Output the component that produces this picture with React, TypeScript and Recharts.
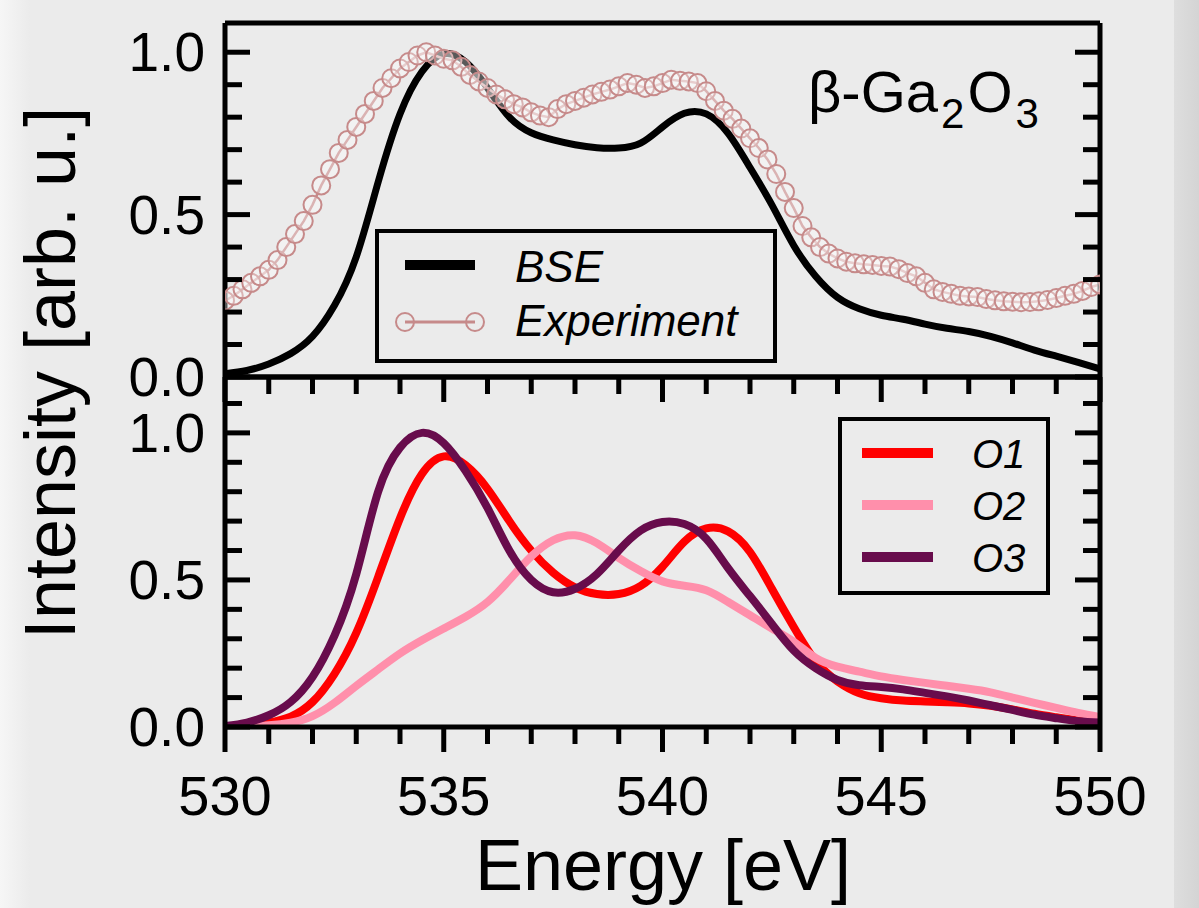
import React from 'react';
import { LineChart, Line, XAxis, YAxis } from 'recharts';

// ---------- data ----------
const calcEnergy = [
  530, 530.5, 531, 531.5, 532, 532.5, 533, 533.5, 534, 534.5,
  535, 535.5, 536, 536.5, 537, 537.5, 538, 538.5, 539, 539.5,
  540, 540.5, 541, 541.5, 542, 542.5, 543, 543.5, 544, 544.5,
  545, 545.5, 546, 546.5, 547, 547.5, 548, 548.5, 549, 549.5, 550,
];

const bse = [
  0.01, 0.02, 0.04, 0.072, 0.125, 0.22, 0.37, 0.6, 0.81, 0.94,
  0.995, 0.97, 0.89, 0.8, 0.752, 0.73, 0.715, 0.706, 0.705, 0.72,
  0.77, 0.812, 0.81, 0.75, 0.645, 0.53, 0.405, 0.31, 0.245, 0.21,
  0.19, 0.178, 0.163, 0.15, 0.14, 0.125, 0.105, 0.083, 0.064, 0.045, 0.025,
];

const o1 = [
  0.0, 0.005, 0.015, 0.035, 0.085, 0.18, 0.32, 0.51, 0.71, 0.86,
  0.92, 0.89, 0.81, 0.7, 0.6, 0.525, 0.475, 0.452, 0.452, 0.48,
  0.545, 0.63, 0.675, 0.665, 0.595, 0.47, 0.34, 0.225, 0.155, 0.115,
  0.098, 0.09, 0.087, 0.084, 0.08, 0.072, 0.06, 0.045, 0.033, 0.022, 0.012,
];

const o2 = [
  0.0, 0.002, 0.006, 0.015, 0.037, 0.082, 0.14, 0.196, 0.25, 0.295,
  0.335, 0.375, 0.425, 0.5, 0.58, 0.635, 0.652, 0.625, 0.575, 0.53,
  0.495, 0.48, 0.465, 0.425, 0.38, 0.335, 0.29, 0.235, 0.205, 0.188,
  0.172, 0.16, 0.15, 0.14, 0.13, 0.118, 0.1, 0.082, 0.065, 0.048, 0.034,
];

const o3 = [
  0.003, 0.015, 0.04, 0.085, 0.17, 0.31, 0.52, 0.8, 0.95, 1.0,
  0.965, 0.87, 0.745, 0.6, 0.5, 0.458, 0.47, 0.52, 0.6, 0.668,
  0.697, 0.69, 0.64, 0.54, 0.445, 0.35, 0.26, 0.2, 0.16, 0.142,
  0.136, 0.128, 0.116, 0.104, 0.09, 0.074, 0.058, 0.042, 0.03, 0.02, 0.015,
];

const expEnergy = [
  530, 530.2, 530.4, 530.6, 530.8, 531, 531.2, 531.4, 531.6, 531.8,
  532, 532.2, 532.4, 532.6, 532.8, 533, 533.2, 533.4, 533.6, 533.8,
  534, 534.2, 534.4, 534.6, 534.8, 535, 535.2, 535.4, 535.6, 535.8,
  536, 536.2, 536.4, 536.6, 536.8, 537, 537.2, 537.4, 537.6, 537.8,
  538, 538.2, 538.4, 538.6, 538.8, 539, 539.2, 539.4, 539.6, 539.8,
  540, 540.2, 540.4, 540.6, 540.8, 541, 541.2, 541.4, 541.6, 541.8,
  542, 542.2, 542.4, 542.6, 542.8, 543, 543.2, 543.4, 543.6, 543.8,
  544, 544.2, 544.4, 544.6, 544.8, 545, 545.2, 545.4, 545.6, 545.8,
  546, 546.2, 546.4, 546.6, 546.8, 547, 547.2, 547.4, 547.6, 547.8,
  548, 548.2, 548.4, 548.6, 548.8, 549, 549.2, 549.4, 549.6, 549.8, 550,
];

const expIntensity = [
  0.235, 0.25, 0.27, 0.29, 0.31, 0.33, 0.36, 0.4, 0.44, 0.48,
  0.53, 0.59, 0.64, 0.69, 0.73, 0.77, 0.81, 0.85, 0.89, 0.92,
  0.95, 0.97, 0.99, 1.0, 0.99, 0.98, 0.975, 0.955, 0.93, 0.91,
  0.89, 0.87, 0.855, 0.84, 0.83, 0.815, 0.805, 0.8, 0.825, 0.84,
  0.85, 0.86, 0.87, 0.878, 0.885, 0.895, 0.905, 0.9, 0.89, 0.895,
  0.905, 0.915, 0.912, 0.91, 0.905, 0.88, 0.85, 0.82, 0.795, 0.765,
  0.735, 0.705, 0.67, 0.625, 0.57, 0.52, 0.465, 0.43, 0.4, 0.38,
  0.365, 0.355, 0.35, 0.347, 0.345, 0.342, 0.34, 0.332, 0.32, 0.31,
  0.29, 0.27, 0.262, 0.256, 0.25, 0.248, 0.246, 0.24, 0.236, 0.233,
  0.232, 0.23, 0.231, 0.233, 0.237, 0.243, 0.25, 0.256, 0.265, 0.277, 0.285,
];

const xTicks = [530, 531, 532, 533, 534, 535, 536, 537, 538, 539, 540, 541, 542, 543, 544, 545, 546, 547, 548, 549, 550];
const xMajorTicks = [530, 535, 540, 545, 550];
const yTicksTop = [0, 0.1, 0.2, 0.3, 0.4, 0.5, 0.6, 0.7, 0.8, 0.9, 1.0];
const yTicksBottom = [0, 0.1, 0.2, 0.3, 0.4, 0.5, 0.6, 0.7, 0.8, 0.9, 1.0, 1.1];
const yMajorTicks = [0, 0.5, 1.0];

const topSeries = [
  { name: 'BSE', color: '#000000' },
  { name: 'Experiment', color: '#c68a8a' },
];
const bottomSeries = [
  { name: 'O1', color: '#ff0000', values: o1 },
  { name: 'O2', color: '#ff8fab', values: o2 },
  { name: 'O3', color: '#680c4c', values: o3 },
];

// ---------- styling ----------
const FONT = "'Liberation Sans', Arial, Helvetica, sans-serif";
const W = 1199;
const H = 908;
const FRAME = 5;
const PLOT_RIGHT = 1100;

const isMajorY = (v: number) => yMajorTicks.some((m) => Math.abs(m - v) < 1e-6);
const isMajorX = (v: number) => xMajorTicks.includes(v);

const LeftTick = (props: any) => {
  const { x, y, payload } = props;
  const v = payload.value as number;
  const major = isMajorY(v);
  return (
    <g>
      <line x1={x} x2={x + (major ? 25 : 17)} y1={y} y2={y} stroke="#000" strokeWidth={FRAME} />
      {major && (
        <text x={x - 20} y={y + 19} textAnchor="end" fontSize={55} fontFamily={FONT} fill="#000">
          {v.toFixed(1)}
        </text>
      )}
    </g>
  );
};

const RightTick = (props: any) => {
  const { x, y, payload } = props;
  const v = payload.value as number;
  const major = isMajorY(v);
  return <line x1={x} x2={x - (major ? 25 : 17)} y1={y} y2={y} stroke="#000" strokeWidth={FRAME} />;
};

const makeBottomTick = (withLabel: boolean) => (props: any) => {
  const { x, y, payload } = props;
  const v = payload.value as number;
  const major = isMajorX(v);
  return (
    <g>
      <line x1={x} x2={x} y1={y} y2={y + (major ? 25 : 17)} stroke="#000" strokeWidth={FRAME} />
      {withLabel && major && (
        <text x={x} y={y + 88} textAnchor="middle" fontSize={56} fontFamily={FONT} fill="#000">
          {v}
        </text>
      )}
    </g>
  );
};

const TopPanelXTick = makeBottomTick(false);
const BottomPanelXTick = makeBottomTick(true);

const toRows = (xs: number[], ys: number[]) => xs.map((e, i) => ({ e, v: ys[i] }));

function Panel({
  top,
  bottom,
  yMax,
  yTicks,
  xTick,
  children,
}: {
  top: number;
  bottom: number;
  yMax: number;
  yTicks: number[];
  xTick: any;
  children: React.ReactNode;
}) {
  return (
    <div style={{ position: 'absolute', left: 0, top: 0 }}>
      <LineChart
        width={W}
        height={H}
        margin={{ top: top - 1, right: W - PLOT_RIGHT - 1, bottom: H - bottom - 1, left: 0 }}
      >
        <XAxis
          xAxisId="b"
          dataKey="e"
          type="number"
          domain={[530, 550]}
          allowDataOverflow
          ticks={xTicks}
          interval={0}
          height={1}
          tickSize={0}
          tickMargin={0}
          tickLine={false}
          axisLine={{ stroke: '#000', strokeWidth: FRAME }}
          tick={xTick}
        />
        <XAxis
          xAxisId="t"
          orientation="top"
          dataKey="e"
          type="number"
          domain={[530, 550]}
          allowDataOverflow
          height={1}
          tick={false}
          tickLine={false}
          axisLine={{ stroke: '#000', strokeWidth: FRAME }}
        />
        <YAxis
          yAxisId="l"
          type="number"
          domain={[0, yMax]}
          allowDataOverflow
          ticks={yTicks}
          interval={0}
          width={225}
          tickSize={0}
          tickMargin={0}
          tickLine={false}
          axisLine={{ stroke: '#000', strokeWidth: FRAME }}
          tick={LeftTick}
        />
        <YAxis
          yAxisId="r"
          orientation="right"
          type="number"
          domain={[0, yMax]}
          allowDataOverflow
          ticks={yTicks}
          interval={0}
          width={1}
          tickSize={0}
          tickMargin={0}
          tickLine={false}
          axisLine={{ stroke: '#000', strokeWidth: FRAME }}
          tick={RightTick}
        />
        {children}
      </LineChart>
    </div>
  );
}

export default function App() {
  const bseRows = toRows(calcEnergy, bse);
  const expRows = toRows(expEnergy, expIntensity);
  const [bseS, expS] = topSeries;

  return (
    <div
      style={{
        position: 'absolute',
        left: 0,
        top: 0,
        width: W,
        height: H,
        background: '#ebebeb',
        overflow: 'hidden',
      }}
    >
      <div
        style={{
          position: 'absolute',
          left: 0,
          top: 0,
          width: 30,
          height: H,
          background: 'linear-gradient(to right, #f6f6f6, #ebebeb)',
        }}
      />
      <div
        style={{
          position: 'absolute',
          left: 1174,
          top: 0,
          width: 25,
          height: H,
          background: 'linear-gradient(to right, #dedede, #d4d4d4)',
        }}
      />

      {/* top panel */}
      <Panel top={23} bottom={377} yMax={1.09} yTicks={yTicksTop} xTick={TopPanelXTick}>
        <Line
          xAxisId="b"
          yAxisId="l"
          data={bseRows}
          dataKey="v"
          name={bseS.name}
          type="natural"
          stroke={bseS.color}
          strokeWidth={7}
          dot={false}
          isAnimationActive={false}
        />
        <Line
          xAxisId="b"
          yAxisId="l"
          data={expRows}
          dataKey="v"
          name={expS.name}
          type="linear"
          stroke={expS.color}
          strokeWidth={2.5}
          dot={{ r: 9, stroke: expS.color, strokeWidth: 2, fill: 'rgba(255,255,255,0.35)' }}
          isAnimationActive={false}
        />
      </Panel>

      {/* bottom panel */}
      <Panel top={377} bottom={727} yMax={1.19} yTicks={yTicksBottom} xTick={BottomPanelXTick}>
        {bottomSeries.map((s) => (
          <Line
            key={s.name}
            xAxisId="b"
            yAxisId="l"
            data={toRows(calcEnergy, s.values)}
            dataKey="v"
            name={s.name}
            type="natural"
            stroke={s.color}
            strokeWidth={8}
            dot={false}
            isAnimationActive={false}
          />
        ))}
      </Panel>

      {/* overlay texts and legends */}
      <svg
        width={W}
        height={H}
        style={{ position: 'absolute', left: 0, top: 0, pointerEvents: 'none' }}
      >
        <text
          x={75}
          y={373}
          transform="rotate(-90, 75, 373)"
          textAnchor="middle"
          fontSize={72}
          fontFamily={FONT}
          fill="#000"
        >
          Intensity [arb. u.]
        </text>
        <text x={663} y={890} textAnchor="middle" fontSize={72} fontFamily={FONT} fill="#000">
          Energy [eV]
        </text>
        <text x={808} y={112} fontSize={58} fontFamily={FONT} fill="#000">
          <tspan>β-Ga</tspan>
          <tspan dx={3} dy={16} fontSize={42}>2</tspan>
          <tspan dx={3} dy={-16}>O</tspan>
          <tspan dx={3} dy={16} fontSize={42}>3</tspan>
        </text>

        {/* top legend */}
        <rect x={377} y={231} width={398} height={130} fill="none" stroke="#000" strokeWidth={4} />
        <line x1={405} x2={475} y1={265} y2={265} stroke={bseS.color} strokeWidth={10} />
        <text x={515} y={282} fontSize={44} fontStyle="italic" fontFamily={FONT} fill="#000">
          {bseS.name}
        </text>
        <line x1={405} x2={475} y1={322} y2={322} stroke={expS.color} strokeWidth={3} />
        <circle cx={405} cy={322} r={9} fill="none" stroke={expS.color} strokeWidth={2} />
        <circle cx={475} cy={322} r={9} fill="none" stroke={expS.color} strokeWidth={2} />
        <text x={515} y={336} fontSize={44} fontStyle="italic" fontFamily={FONT} fill="#000">
          {expS.name}
        </text>

        {/* bottom legend */}
        <rect x={840} y={419} width={208} height={174} fill="none" stroke="#000" strokeWidth={4} />
        {bottomSeries.map((s, i) => (
          <g key={s.name}>
            <line x1={862} x2={933} y1={453 + i * 52} y2={453 + i * 52} stroke={s.color} strokeWidth={10} />
            <text
              x={972}
              y={468 + i * 52}
              fontSize={40}
              fontStyle="italic"
              fontFamily={FONT}
              fill="#000"
            >
              {s.name}
            </text>
          </g>
        ))}
      </svg>
    </div>
  );
}
